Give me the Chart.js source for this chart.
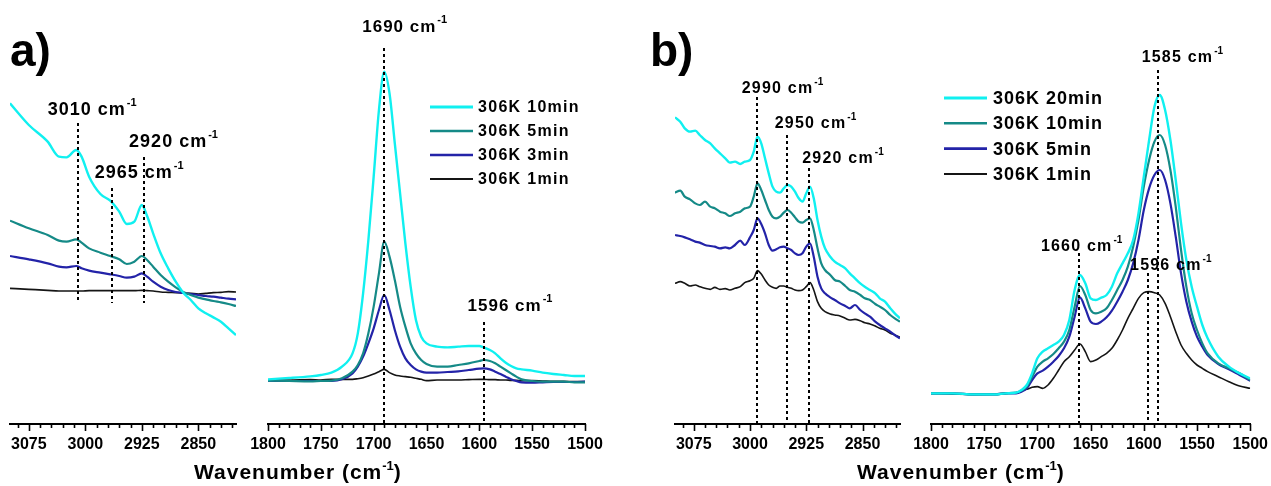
<!DOCTYPE html>
<html><head><meta charset="utf-8">
<script src="https://cdn.jsdelivr.net/npm/chart.js@4.4.1/dist/chart.umd.min.js"></script>
<style>
html,body{margin:0;padding:0;background:#fff;width:1271px;height:486px;overflow:hidden;position:relative;font-family:'Liberation Sans',Arial,sans-serif;}
canvas{position:absolute;top:0;}
.panel{position:absolute;font-weight:bold;font-size:46px;color:#000;line-height:1;}
.xt{position:absolute;font-weight:bold;font-size:21px;letter-spacing:1px;white-space:nowrap;line-height:1;color:#000;}
.xt .sp{font-size:13px;position:relative;top:-9px;letter-spacing:0;}
</style></head><body>
<canvas id="cAL" width="276" height="486" style="left:-15px"></canvas>
<canvas id="cAR" width="367" height="486" style="left:243px"></canvas>
<canvas id="cBL" width="275" height="486" style="left:650px"></canvas>
<canvas id="cBR" width="365" height="486" style="left:906px"></canvas>
<div class="panel" style="left:10px;top:27px">a)</div>
<div class="panel" style="left:650px;top:27px">b)</div>
<div class="xt" style="left:194px;top:461px">Wavenumber (cm<span class="sp">-1</span>)</div>
<div class="xt" style="left:857px;top:461px">Wavenumber (cm<span class="sp">-1</span>)</div>
<script>
// ---------------- DATA ----------------
// tick labels
const ticksCH = [3075, 3000, 2925, 2850];
const ticksCO = [1800, 1750, 1700, 1650, 1600, 1550, 1500];

// panel a, left (C-H region)
const aLeftWavenumber = [3100, 3075, 3050, 3035, 3025, 3012, 3005, 2995, 2980, 2967, 2955, 2945, 2935, 2925, 2918, 2910, 2900, 2890, 2880, 2870, 2860, 2850, 2840, 2830, 2820, 2810, 2800];
const aLeft10min = [962, 897, 847, 802, 800, 822, 802, 742, 690, 670, 637, 600, 607, 657, 624, 572, 512, 467, 427, 394, 372, 347, 332, 320, 307, 287, 267];
const aLeft5min  = [610, 587, 567, 550, 547, 554, 544, 527, 514, 504, 494, 480, 487, 504, 492, 472, 447, 427, 410, 396, 387, 379, 374, 369, 365, 360, 354];
const aLeft3min  = [504, 494, 482, 472, 470, 474, 467, 460, 454, 449, 444, 439, 442, 452, 442, 427, 412, 402, 396, 393, 390, 387, 384, 382, 379, 376, 374];
const aLeft1min  = [407, 404, 401, 399, 399, 399, 399, 400, 400, 400, 400, 400, 400, 401, 400, 399, 396, 395, 394, 393, 392, 390, 392, 394, 395, 397, 396];
const aLeftPeaks = [3010, 2965, 2922];
const aLeftPeakNames = ['3010', '2965', '2920'];
const aLeftPeakTops = [903, 708, 801];

// panel a, right (C=O region)
const aRightWavenumber = [1800, 1780, 1760, 1750, 1740, 1730, 1720, 1715, 1710, 1705, 1700, 1695, 1690, 1685, 1680, 1675, 1670, 1665, 1660, 1655, 1650, 1640, 1630, 1620, 1610, 1600, 1596, 1590, 1585, 1580, 1575, 1570, 1565, 1560, 1550, 1540, 1530, 1520, 1510, 1500];
const aRight10min = [134, 138, 143, 147, 154, 172, 212, 272, 392, 552, 742, 942, 1057, 992, 842, 692, 542, 412, 312, 262, 242, 232, 230, 232, 234, 234, 230, 222, 212, 197, 184, 174, 167, 164, 160, 154, 150, 147, 144, 144];
const aRight5min  = [130, 129, 128, 129, 130, 137, 157, 177, 212, 272, 352, 452, 547, 502, 432, 352, 292, 242, 212, 192, 180, 172, 172, 177, 182, 189, 192, 189, 182, 172, 162, 152, 142, 134, 129, 127, 127, 127, 125, 125];
const aRight3min  = [130, 129, 129, 129, 129, 134, 152, 172, 202, 242, 287, 342, 387, 342, 282, 232, 197, 177, 164, 157, 154, 154, 156, 158, 162, 166, 167, 164, 157, 150, 142, 134, 129, 125, 124, 125, 126, 126, 126, 127];
const aRight1min  = [132, 132, 133, 132, 134, 134, 134, 136, 139, 144, 150, 157, 164, 154, 147, 144, 142, 140, 137, 134, 130, 132, 132, 132, 133, 134, 134, 133, 133, 132, 132, 131, 131, 130, 130, 129, 128, 128, 127, 127];
const aRightPeaks = [1690, 1596];
const aRightPeakNames = ['1690', '1596'];
const aRightPeakTops = [1128, 306];
const aSeriesNames = ['306K 10min', '306K 5min', '306K 3min', '306K 1min'];

// panel b, left (C-H region)
const bLeftWavenumber = [3100, 3093, 3087, 3080, 3073, 3067, 3060, 3053, 3047, 3040, 3033, 3027, 3020, 3013, 3007, 3000, 2995, 2990, 2985, 2980, 2975, 2970, 2965, 2960, 2955, 2950, 2945, 2940, 2935, 2930, 2925, 2920, 2915, 2910, 2905, 2900, 2893, 2887, 2880, 2873, 2867, 2860, 2853, 2847, 2840, 2833, 2827, 2820, 2813, 2807, 2800];
const bLeft20min = [920, 907, 887, 877, 880, 867, 852, 842, 827, 812, 797, 784, 787, 780, 787, 792, 817, 862, 842, 797, 752, 712, 697, 694, 707, 717, 712, 697, 677, 667, 692, 712, 677, 612, 562, 527, 502, 487, 477, 467, 452, 437, 422, 412, 402, 392, 377, 367, 347, 332, 317];
const bLeft10min = [694, 700, 682, 674, 662, 657, 667, 652, 647, 637, 632, 624, 632, 637, 647, 652, 682, 722, 702, 672, 642, 622, 617, 622, 634, 642, 634, 620, 607, 604, 612, 617, 582, 527, 482, 462, 447, 432, 427, 414, 402, 397, 387, 377, 372, 360, 352, 342, 327, 317, 307];
const bLeft5min  = [567, 564, 560, 554, 547, 544, 537, 534, 532, 527, 530, 527, 537, 550, 537, 560, 582, 617, 600, 572, 537, 520, 524, 530, 532, 527, 522, 512, 507, 512, 532, 542, 502, 442, 407, 392, 380, 372, 362, 354, 347, 357, 342, 332, 322, 307, 297, 287, 277, 267, 257];
const bLeft1min  = [422, 427, 422, 414, 417, 412, 407, 404, 410, 404, 406, 402, 407, 412, 424, 430, 437, 460, 450, 432, 417, 410, 407, 414, 414, 410, 407, 402, 400, 402, 412, 424, 402, 367, 347, 337, 330, 327, 324, 317, 312, 314, 310, 304, 300, 294, 287, 282, 272, 267, 260];
const bLeftPeaks = [2991, 2951, 2921];
const bLeftPeakNames = ['2990', '2950', '2920'];
const bLeftPeakTops = [981, 867, 768];

// panel b, right (C=O region)
const bRightWavenumber = [1800, 1780, 1760, 1740, 1730, 1720, 1715, 1710, 1705, 1700, 1695, 1690, 1685, 1680, 1675, 1670, 1665, 1660, 1655, 1650, 1645, 1640, 1635, 1630, 1625, 1620, 1615, 1610, 1605, 1600, 1595, 1590, 1585, 1580, 1575, 1570, 1565, 1560, 1555, 1550, 1545, 1540, 1530, 1520, 1510, 1500];
const bRight20min = [92, 92, 89, 89, 92, 94, 102, 117, 152, 197, 217, 227, 237, 247, 267, 312, 402, 447, 422, 377, 372, 379, 387, 412, 452, 482, 512, 552, 632, 742, 852, 952, 987, 942, 852, 732, 602, 492, 412, 352, 297, 257, 202, 172, 152, 137];
const bRight10min = [92, 92, 89, 89, 92, 94, 100, 112, 142, 172, 187, 197, 210, 227, 247, 282, 352, 414, 387, 342, 332, 337, 347, 372, 402, 432, 472, 532, 612, 712, 792, 847, 867, 837, 762, 652, 522, 412, 332, 282, 242, 212, 182, 167, 152, 132];
const bRight5min  = [92, 92, 89, 89, 92, 92, 97, 107, 132, 152, 160, 172, 187, 204, 227, 262, 322, 380, 347, 307, 300, 307, 320, 340, 367, 397, 432, 482, 552, 642, 707, 747, 762, 732, 662, 562, 452, 367, 307, 262, 232, 207, 180, 164, 147, 130];
const bRight1min  = [92, 90, 89, 90, 92, 94, 100, 104, 110, 112, 107, 117, 137, 162, 187, 202, 222, 240, 217, 187, 192, 202, 212, 227, 252, 282, 317, 347, 377, 394, 397, 394, 387, 362, 322, 277, 237, 212, 192, 177, 167, 157, 142, 127, 114, 107];
const bRightPeaks = [1587, 1661, 1596];
const bRightPeakNames = ['1585', '1660', '1596'];
const bRightPeakTops = [1062, 513, 453];
const bSeriesNames = ['306K 20min', '306K 10min', '306K 5min', '306K 1min'];

// ---------------- STYLE ----------------
const COLORS = ['#10f0f0', '#158a87', '#2323a8', '#151515'];
const WIDTHS = [2.4, 2.2, 2.2, 1.6];
const FONT = '"Liberation Sans", Arial, sans-serif';

function minorTicks(majors, step, lo, hi) {
  const out = [];
  const start = majors[0];
  for (let v = start; v <= hi; v += step) if (v >= lo) out.push(v);
  for (let v = start - step; v >= lo; v -= step) out.push(v);
  return out.filter(v => !majors.includes(v));
}

function drawPeakLabel(ctx, x, y, num, size, sp) {
  ctx.fillStyle = '#000';
  ctx.textAlign = 'left';
  ctx.textBaseline = 'alphabetic';
  ctx.font = `bold ${size}px ${FONT}`;
  ctx.letterSpacing = sp + 'px';
  const main = num + ' cm';
  ctx.fillText(main, x, y);
  const w = ctx.measureText(main).width;
  ctx.font = `bold ${Math.round(size * 0.62)}px ${FONT}`;
  ctx.letterSpacing = '0px';
  ctx.fillText('-1', x + w + 1, y - size * 0.52);
}

const decoPlugin = {
  id: 'deco',
  afterDraw(chart, args, o) {
    const ctx = chart.ctx, xs = chart.scales.x, ys = chart.scales.y, area = chart.chartArea;
    ctx.save();
    // axis tick marks (major + minor)
    ctx.strokeStyle = '#000';
    ctx.lineWidth = 1.6;
    const drawTick = (v, len) => {
      const px = Math.round(xs.getPixelForValue(v)) + 0.5;
      ctx.beginPath(); ctx.moveTo(px, area.bottom); ctx.lineTo(px, area.bottom + len); ctx.stroke();
    };
    o.minor.forEach(v => drawTick(v, 4));
    o.major.forEach(v => drawTick(v, 7));
    // dashed peak markers
    ctx.setLineDash([3, 3]);
    ctx.lineWidth = 2;
    o.peaks.forEach((v, i) => {
      const px = Math.round(xs.getPixelForValue(v));
      ctx.beginPath();
      ctx.moveTo(px, ys.getPixelForValue(o.tops[i]));
      ctx.lineTo(px, ys.getPixelForValue(o.bottom));
      ctx.stroke();
    });
    ctx.setLineDash([]);
    // peak labels
    o.names.forEach((t, i) => {
      const px = xs.getPixelForValue(o.peaks[i]);
      drawPeakLabel(ctx, px + o.labelDx[i], o.labelY[i], t, o.labelSize, o.labelSpacing);
    });
    // legend
    if (o.legend) {
      const L = o.legend;
      chart.data.datasets.forEach((ds, i) => {
        const y = L.y0 + i * L.dy;
        ctx.strokeStyle = ds.borderColor;
        ctx.lineWidth = ds.borderWidth + 0.4;
        ctx.beginPath(); ctx.moveTo(L.x0, y); ctx.lineTo(L.x1, y); ctx.stroke();
        ctx.fillStyle = '#000';
        ctx.font = `bold ${L.size}px ${FONT}`;
        ctx.letterSpacing = L.spacing + 'px';
        ctx.textAlign = 'left';
        ctx.textBaseline = 'middle';
        ctx.fillText(ds.label, L.tx, y + 1);
      });
    }
    ctx.restore();
  }
};

function makeChart(id, wn, series, names, xmin, xmax, majors, minorStep, pad, deco) {
  const datasets = series.map((s, i) => ({
    label: names[i],
    data: wn.map((x, j) => ({ x: x, y: s[j] })),
    borderColor: COLORS[i],
    borderWidth: WIDTHS[i],
    pointRadius: 0,
    fill: false,
    cubicInterpolationMode: 'monotone'
  }));
  deco.major = majors;
  deco.minor = minorTicks(majors, minorStep, xmin, xmax);
  return new Chart(document.getElementById(id), {
    type: 'line',
    data: { datasets },
    plugins: [decoPlugin],
    options: {
      responsive: false,
      animation: false,
      devicePixelRatio: 1,
      layout: { autoPadding: false, padding: { left: pad[0], right: pad[1], top: 0, bottom: 0 } },
      plugins: { legend: { display: false }, tooltip: { enabled: false }, deco: deco },
      scales: {
        x: {
          type: 'linear',
          reverse: true,
          min: xmin,
          max: xmax,
          afterBuildTicks: (s) => { s.ticks = majors.map(v => ({ value: v })); },
          afterFit: (s) => { s.height = 62; },
          grid: { display: false },
          border: { display: true, color: '#000', width: 2 },
          ticks: {
            autoSkip: false, maxRotation: 0, padding: 3, color: '#000',
            font: { family: FONT, weight: 'bold', size: 16 },
            callback: (v) => String(v)
          }
        },
        y: { display: false, min: 0, max: 1272 }
      }
    }
  });
}

makeChart('cAL', aLeftWavenumber, [aLeft10min, aLeft5min, aLeft3min, aLeft1min], aSeriesNames,
  2800, 3100, ticksCH, 15, [25, 25],
  { peaks: aLeftPeaks, names: aLeftPeakNames, tops: aLeftPeakTops, bottom: 363,
    labelDx: [-30, -17, -15], labelY: [115, 178, 147], labelSize: 18, labelSpacing: 1 });

makeChart('cAR', aRightWavenumber, [aRight10min, aRight5min, aRight3min, aRight1min], aSeriesNames,
  1500, 1800, ticksCO, 10, [25, 25],
  { peaks: aRightPeaks, names: aRightPeakNames, tops: aRightPeakTops, bottom: 0,
    labelDx: [-22, -16], labelY: [32, 311], labelSize: 17, labelSpacing: 1,
    legend: { x0: 187, x1: 230, tx: 235, y0: 107, dy: 24, size: 16, spacing: 1.3 } });

makeChart('cBL', bLeftWavenumber, [bLeft20min, bLeft10min, bLeft5min, bLeft1min], bSeriesNames,
  2800, 3100, ticksCH, 15, [25, 25],
  { peaks: bLeftPeaks, names: bLeftPeakNames, tops: bLeftPeakTops, bottom: 0,
    labelDx: [-15, -12, -7], labelY: [93, 128, 163], labelSize: 16, labelSpacing: 1.2 });

makeChart('cBR', bRightWavenumber, [bRight20min, bRight10min, bRight5min, bRight1min], bSeriesNames,
  1500, 1800, ticksCO, 10, [25, 18],
  { peaks: bRightPeaks, names: bRightPeakNames, tops: bRightPeakTops, bottom: 0,
    labelDx: [-16, -38, -18], labelY: [62, 251, 270], labelSize: 16, labelSpacing: 1.2,
    legend: { x0: 38, x1: 81, tx: 87, y0: 98, dy: 25.3, size: 18, spacing: 1 } });
</script>
</body></html>
